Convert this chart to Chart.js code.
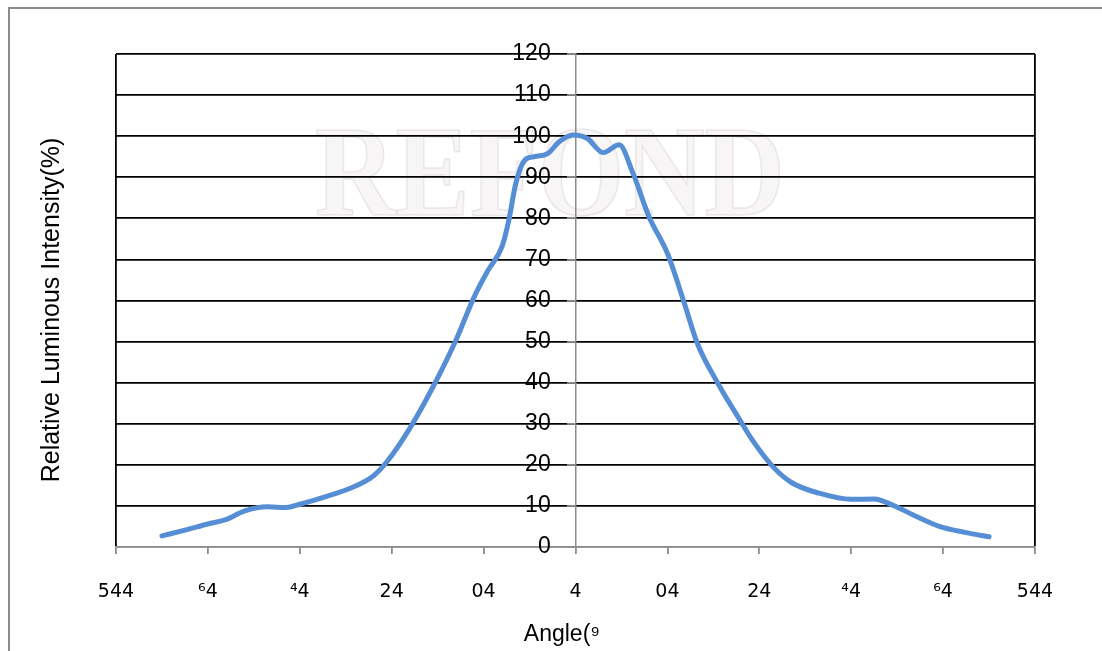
<!DOCTYPE html>
<html>
<head>
<meta charset="utf-8">
<script src="https://cdn.jsdelivr.net/npm/chart.js@4.4.0/dist/chart.umd.min.js"></script>
<style>
  html, body { margin: 0; padding: 0; background: #fff; }
  #wrap { width: 1102px; height: 651px; position: relative; }
</style>
</head>
<body>
<div id="wrap"><canvas id="grafica"></canvas></div>
<script>
// angle (deg) and relative intensity (%)
const angulos = [-90, -85, -80, -76, -72, -67, -63, -60, -54, -49, -44, -41, -36, -31, -26, -22, -19, -16, -14.5, -13, -11, -9, -6, -3.5, -0.5, 2.5, 6, 9.5, 12.5, 16, 20, 23.5, 26.5, 31, 36, 38.5, 43, 47, 53, 60, 65, 69, 73.5, 79, 85, 90];
const intensidad = [2.7, 4.1, 5.6, 6.7, 8.8, 9.8, 9.6, 10.4, 12.4, 14.3, 17.3, 20.8, 29, 39, 50.4, 61, 67.4, 73.1, 79.6, 88.5, 94.2, 95, 95.8, 98.7, 100.3, 99.5, 96, 97.9, 91, 80.4, 71.5, 60, 49.6, 39.8, 30.5, 26, 19.5, 15.7, 13.1, 11.6, 11.7, 10.2, 7.8, 5.1, 3.5, 2.5];

// tick labels exactly as they show in the picture
const etiquetasX = ['544', '⁶4', '⁴4', '24', '04', '4', '04', '24', '⁴4', '⁶4', '544'];
const tituloX = 'Angle(⁹';
const tituloY = 'Relative Luminous Intensity(%)';

const puntos = angulos.map((a, i) => ({ x: a, y: intensidad[i] }));

const marco = {
    id: 'marco',
    beforeDraw(chart) {
        const c = chart.ctx;
        c.save();
        c.fillStyle = '#fff';
        c.fillRect(0, 0, chart.width, chart.height);
        // outer frame
        c.strokeStyle = '#8c8c8c';
        c.lineWidth = 2;
        c.beginPath();
        c.moveTo(9, chart.height);
        c.lineTo(9, 8);
        c.lineTo(chart.width, 8);
        c.stroke();
        // faint watermark
        c.font = 'bold 120px "Liberation Serif"';
        const w = c.measureText('REFOND').width;
        c.translate(315, 215);
        c.scale(470 / w, 1.08);
        c.fillStyle = 'rgba(225, 215, 220, 0.25)';
        c.strokeStyle = 'rgba(200, 185, 195, 0.3)';
        c.lineWidth = 1.5;
        c.fillText('REFOND', 0, 0);
        c.strokeText('REFOND', 0, 0);
        c.restore();
    },
    afterDraw(chart) {
        const c = chart.ctx;
        c.save();
        c.fillStyle = '#000';
        c.textAlign = 'center';
        c.textBaseline = 'middle';
        c.font = '23px "Liberation Sans"';
        c.fillText(tituloX, 562, 635);
        c.translate(52, 310);
        c.rotate(-Math.PI / 2);
        c.font = '25px "Liberation Sans"';
        c.fillText(tituloY, 0, 0);
        c.restore();
    }
};

const grafica = new Chart(document.getElementById('grafica'), {
    type: 'scatter',
    data: {
        datasets: [{
            label: 'intensidad',
            data: puntos,
            showLine: true,
            borderColor: 'rgb(85,142,213)',
            borderWidth: 5,
            borderCapStyle: 'round',
            borderJoinStyle: 'round',
            cubicInterpolationMode: 'monotone',
            pointRadius: 0,
            fill: false
        }]
    },
    options: {
        responsive: true,
        maintainAspectRatio: false,
        animation: false,
        layout: { padding: { left: 116, right: 67, top: 54, bottom: 0 } },
        plugins: { legend: { display: false }, tooltip: { enabled: false } },
        scales: {
            x: {
                type: 'linear',
                min: -100,
                max: 100,
                afterFit: s => { s.height = 104; },
                border: { display: true, color: '#8c8c8c', width: 1.5 },
                grid: {
                    color: ctx => (ctx.tick && Math.abs(ctx.tick.value) === 100) ? '#000' : 'rgba(0,0,0,0)',
                    tickColor: '#8c8c8c',
                    lineWidth: 1.8,
                    tickLength: 7
                },
                ticks: {
                    stepSize: 20,
                    color: '#000',
                    padding: 27,
                    font: { family: 'DejaVu Sans', size: 19 },
                    callback: v => etiquetasX[Math.round((v + 100) / 20)]
                }
            },
            // axis line, grid and tick marks at angle 0
            y: {
                type: 'linear',
                position: { x: 0 },
                min: 0,
                max: 120,
                border: { display: true, color: '#8c8c8c', width: 1.5 },
                grid: {
                    color: ctx => (ctx.tick && ctx.tick.value === 0) ? '#8c8c8c' : '#000',
                    tickColor: '#8c8c8c',
                    lineWidth: 1.8,
                    tickLength: 8
                },
                ticks: { stepSize: 10, display: false }
            },
            // the numbers, set a little left of the axis line
            yEtiquetas: {
                type: 'linear',
                position: { x: -5.4 },
                min: 0,
                max: 120,
                border: { display: false },
                grid: { display: false },
                ticks: {
                    stepSize: 10,
                    color: '#000',
                    font: { family: 'Liberation Sans', size: 23 }
                }
            }
        }
    },
    plugins: [marco]
});
</script>
</body>
</html>
